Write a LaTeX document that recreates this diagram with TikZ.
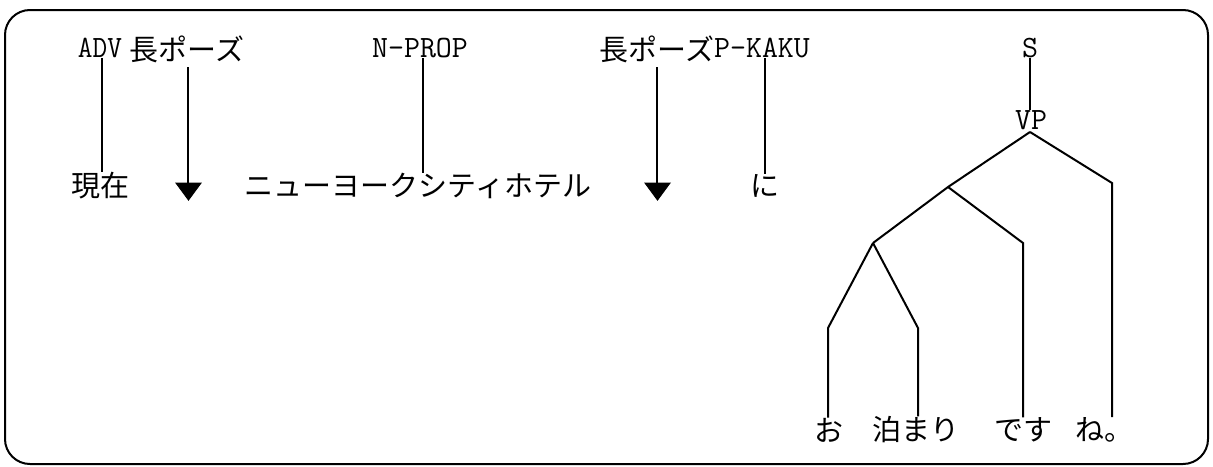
\documentclass[tikz,border=0pt]{standalone}
\usepackage{fontspec}
\newfontfamily\jp{Noto Sans CJK JP}
\usetikzlibrary{calc}
\begin{document}
\begin{tikzpicture}[x=0.5pt,y=-0.5pt,
  lat/.style={font=\fontsize{15.5}{16}\selectfont\ttfamily, inner sep=0pt},
  jpt/.style={font=\fontsize{14.5}{15}\jp, inner sep=0pt},
  ln/.style={line width=1pt},
  tri/.style={fill=black, draw=black, line width=0.5pt}]
\useasboundingbox (0,0) rectangle (1213,466);
\draw[line width=1pt, rounded corners=12.5pt] (5,10) rectangle (1208,464);

% top labels
\node[lat] (adv) at (100,48) {\scalebox{0.92}[1]{ADV}};
\node[jpt] (p1) at (187,49) {長ポーズ};
\node[lat] (nprop) at (420,48) {N-PROP};
\node[jpt] (p2) at (657,49) {長ポーズ};
\node[lat] (pkaku) at (762,48) {P-KAKU};
\node[lat] (s) at (1030,48) {S};
\node[lat] (vp) at (1031,120) {VP};

% middle words
\node[jpt] (genzai) at (100,186) {現在};
\node[jpt] (hotel) at (418,186) {ニューヨークシティホテル};
\node[jpt] (ni) at (765,186) {に};

% bottom words
\node[jpt] (o) at (829,430) {お};
\node[jpt] (tomari) at (916,430) {泊まり};
\node[jpt] (desu) at (1023,430) {です};
\node[jpt] (ne) at (1104,430) {ね。};

% vertical connectors
\coordinate (xa) at (102,0);
\coordinate (xn) at (423,0);
\coordinate (xk) at (765,0);
\draw[ln] (adv.south -| xa) -- (genzai.north -| xa);
\draw[ln] (nprop.south -| xn) -- (hotel.north -| xn);
\draw[ln] (pkaku.south -| xk) -- (ni.north -| xk);

% pause arrows
\coordinate (a1) at (188,67);
\coordinate (t1) at (188,183);
\draw[ln] (a1) -- (t1);
\fill[tri] (176,183) -- (201,183) -- (188.5,200) -- cycle;
\coordinate (a2) at (657,67);
\coordinate (t2) at (657,183);
\draw[ln] (a2) -- (t2);
\fill[tri] (645,183) -- (670,183) -- (657.5,200) -- cycle;

% tree
\coordinate (top) at (1030,132);
\coordinate (n1) at (948,187);
\coordinate (n2) at (873,243);
\coordinate (r1) at (1112,183);
\coordinate (d1) at (1023,243);
\coordinate (o1) at (828,328);
\coordinate (t1b) at (918,328);
\draw[ln] (s.south -| top) -- (vp.north -| top);
\draw[ln] (top) -- (n1) -- (n2);
\draw[ln] (top) -- (r1) -- (ne.north -| r1);
\draw[ln] (n1) -- (d1) -- (desu.north -| d1);
\draw[ln] (n2) -- (o1) -- (o.north -| o1);
\draw[ln] (n2) -- (t1b) -- (tomari.north -| t1b);
\end{tikzpicture}
\end{document}
